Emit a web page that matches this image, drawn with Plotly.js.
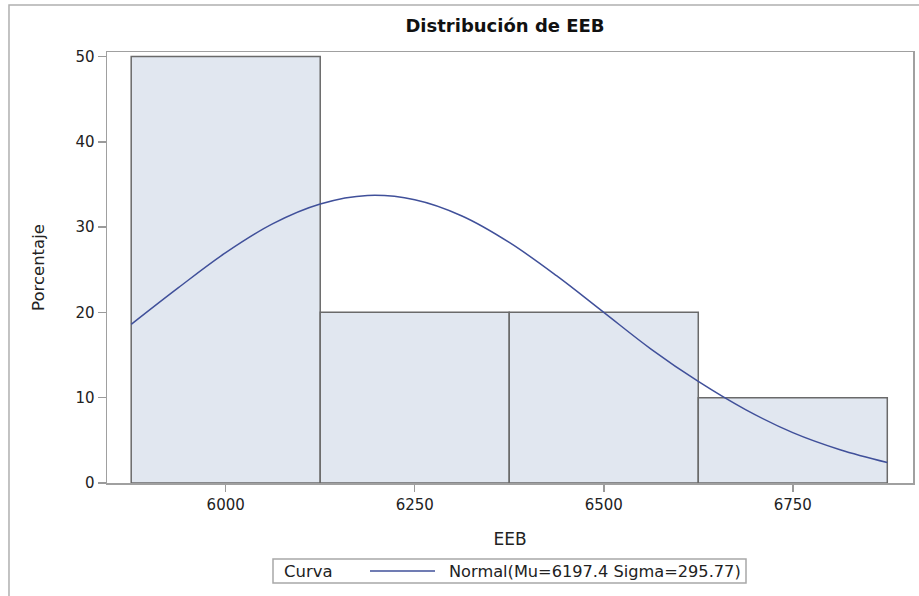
<!DOCTYPE html>
<html>
<head>
<meta charset="utf-8">
<script src="https://cdn.plot.ly/plotly-3.0.1.min.js"></script>
<style>
html,body{margin:0;padding:0;background:#fff;}
#chart{width:919px;height:596px;}
</style>
</head>
<body>
<div id="chart"></div>
<script>
// Histogram bins (midpoints), percentages
const binMidpoints = [6000, 6250, 6500, 6750];
const binPercent = [50, 20, 20, 10];
const binWidth = 250;
const xTicks = [6000, 6250, 6500, 6750];

// Fitted normal curve
const curveX = [5875, 5937.5, 6000, 6062.5, 6125, 6187.5, 6250, 6312.5, 6375, 6437.5, 6500, 6562.5, 6625, 6687.5, 6750, 6812.5, 6875];
const curveY = [18.6, 22.9, 27.0, 30.4, 32.7, 33.7, 33.2, 31.3, 28.2, 24.3, 20.0, 15.7, 11.9, 8.6, 5.9, 3.9, 2.4];
const curveName = "Normal(Mu=6197.4 Sigma=295.77)";
const legendTitle = "Curva";

const FONT = "DejaVu Sans, Verdana, sans-serif";
const CURVE_COLOR = "#40509a";

// plot area in pixels (for converting legend box to paper coords)
const PL = 107, PR = 913, PT = 52, PB = 483;
const px = v => (v - PL) / (PR - PL);
const py = v => (PB - v) / (PB - PT);

const traces = [
  {
    type: "bar",
    x: binMidpoints,
    y: binPercent,
    width: binMidpoints.map(() => binWidth),
    marker: {color: "#e1e7f0", line: {color: "#6a6a6a", width: 1.5}},
    showlegend: false,
    hoverinfo: "x+y"
  },
  {
    type: "scatter",
    mode: "lines",
    x: curveX,
    y: curveY,
    name: curveName,
    line: {color: CURVE_COLOR, width: 1.5, shape: "spline"},
    showlegend: false
  }
];

const layout = {
  width: 919,
  height: 596,
  paper_bgcolor: "#ffffff",
  plot_bgcolor: "#ffffff",
  margin: {l: PL, r: 919 - PR, t: PT, b: 596 - PB, autoexpand: false},
  font: {family: FONT, color: "#222", size: 15},
  title: {
    text: "<b>Distribución de EEB</b>",
    font: {family: FONT, size: 18, color: "#111"},
    x: px(505), xref: "paper", xanchor: "center",
    y: 30, yref: "container", yanchor: "middle"
  },
  bargap: 0,
  xaxis: {
    range: [5843, 6909],
    tickvals: xTicks,
    ticks: "outside",
    ticklen: 7,
    tickwidth: 1.5,
    tickcolor: "#9a9a9a",
    showline: true,
    mirror: true,
    linecolor: "#a0a0a0",
    linewidth: 1.5,
    showgrid: false,
    zeroline: false,
    tickfont: {family: FONT, size: 15, color: "#222"},
    title: {text: "EEB", font: {family: FONT, size: 17, color: "#222"}, standoff: 20}
  },
  yaxis: {
    range: [0, 50.52],
    dtick: 10,
    tick0: 0,
    ticks: "outside",
    ticklen: 8,
    tickwidth: 1.5,
    tickcolor: "#9a9a9a",
    showline: true,
    mirror: true,
    linecolor: "#a0a0a0",
    linewidth: 1.5,
    showgrid: false,
    zeroline: false,
    tickfont: {family: FONT, size: 15, color: "#222"},
    title: {text: "Porcentaje", font: {family: FONT, size: 16.5, color: "#222"}, standoff: 26}
  },
  showlegend: false,
  annotations: [
    {
      text: legendTitle, xref: "paper", yref: "paper",
      x: px(282), y: py(571), xanchor: "left", yanchor: "middle",
      showarrow: false, font: {family: FONT, size: 16.5, color: "#222"}
    },
    {
      text: curveName, xref: "paper", yref: "paper",
      x: px(447), y: py(571), xanchor: "left", yanchor: "middle",
      showarrow: false, font: {family: FONT, size: 16.2, color: "#222"}
    }
  ],
  shapes: [
    {
      type: "rect", xref: "paper", yref: "paper",
      x0: -0.1216, x1: 1.2, y0: -0.4, y1: 1.109,
      line: {color: "#b0b0b0", width: 1.5},
      fillcolor: "rgba(0,0,0,0)",
      layer: "below"
    },
    {
      type: "rect", xref: "paper", yref: "paper",
      x0: px(273), x1: px(746), y0: py(583), y1: py(559),
      line: {color: "#a8a8a8", width: 1.5},
      fillcolor: "rgba(0,0,0,0)"
    },
    {
      type: "line", xref: "paper", yref: "paper",
      x0: px(370), x1: px(435), y0: py(571), y1: py(571),
      line: {color: CURVE_COLOR, width: 1.5}
    }
  ]
};

Plotly.newPlot("chart", traces, layout, {displayModeBar: false, staticPlot: true});
</script>
</body>
</html>
